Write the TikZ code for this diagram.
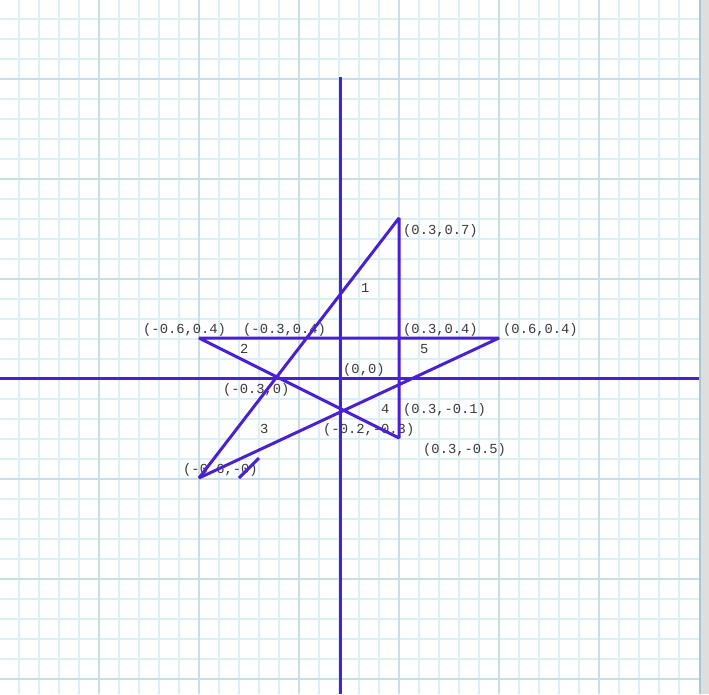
\documentclass[tikz,border=0pt]{standalone}
\usepackage{fontspec}
\newfontfamily\monolbl{Liberation Mono}
\definecolor{minorgrid}{RGB}{220,239,244}
\definecolor{majorgrid}{RGB}{202,223,229}
\definecolor{starcol}{RGB}{74,32,212}
\definecolor{labeltext}{RGB}{58,58,58}
\definecolor{stripgrey}{RGB}{222,222,222}
\definecolor{stripline}{RGB}{170,200,208}
\begin{document}
\begin{tikzpicture}[x=1pt,y=-1pt,
  lbl/.style={font=\monolbl\fontsize{13.8}{14}\selectfont, text=labeltext, anchor=base west, inner sep=0pt},
  starline/.style={draw=starcol, line width=3pt, line join=bevel},
  minorline/.style={draw=minorgrid, line width=1.3pt},
  majorline/.style={draw=majorgrid, line width=1.3pt}]
\useasboundingbox (0,0) rectangle (709,694);
\fill[white] (0,0) rectangle (709,694);
% grid
\foreach \x in {19,39,...,679} \draw[minorline] (\x,0) -- (\x,694);
\foreach \y in {19,39,...,679} \draw[minorline] (0,\y) -- (699,\y);
\foreach \x in {99,199,...,599} \draw[majorline] (\x,0) -- (\x,694);
\foreach \y in {79,179,...,679} \draw[majorline] (0,\y) -- (699,\y);
% right strip
\fill[stripgrey] (700,0) rectangle (709,694);
\draw[stripline, line width=2pt] (700,0) -- (700,694);
% labels
\node[lbl] (l1) at (403,234) {(0.3,0.7)};
\node[lbl] (n1) at (361,292) {1};
\node[lbl] (l2) at (143,333) {(-0.6,0.4)};
\node[lbl] (l3) at (243,333) {(-0.3,0.4)};
\node[lbl] (l4) at (403,333) {(0.3,0.4)};
\node[lbl] (l5) at (503,333) {(0.6,0.4)};
\node[lbl] (n2) at (240,353) {2};
\node[lbl] (n5) at (420,353) {5};
\node[lbl] (l6) at (343,373) {(0,0)};
\node[lbl] (l7) at (223,393) {(-0.3,0)};
\node[lbl] (n4) at (381,413) {4};
\node[lbl] (l8) at (403,413) {(0.3,-0.1)};
\node[lbl] (n3) at (260,433) {3};
\node[lbl] (l9) at (323,433) {(-0.2,-0.3)};
\node[lbl] (l10) at (423,453) {(0.3,-0.5)};
\node[lbl] (l11) at (183,473) {(-0.6,-0)};
% axes
\coordinate (XL) at (0,378);
\coordinate (XR) at (699,378);
\coordinate (YT) at (340,77);
\coordinate (YB) at (340,694);
\draw[starline] (XL) -- (XR);
\draw[starline] (YT) -- (YB);
% star
\coordinate (A) at (399,218);
\coordinate (B) at (199,478);
\coordinate (C) at (499,338);
\coordinate (D) at (199,338);
\coordinate (E) at (399,438);
\draw[starline] (A) -- (B) -- (C) -- (D) -- (E) -- cycle;
% short segment
\coordinate (S1) at (239,478);
\coordinate (S2) at (259,458);
\draw[starline] (S1) -- (S2);
\end{tikzpicture}
\end{document}
